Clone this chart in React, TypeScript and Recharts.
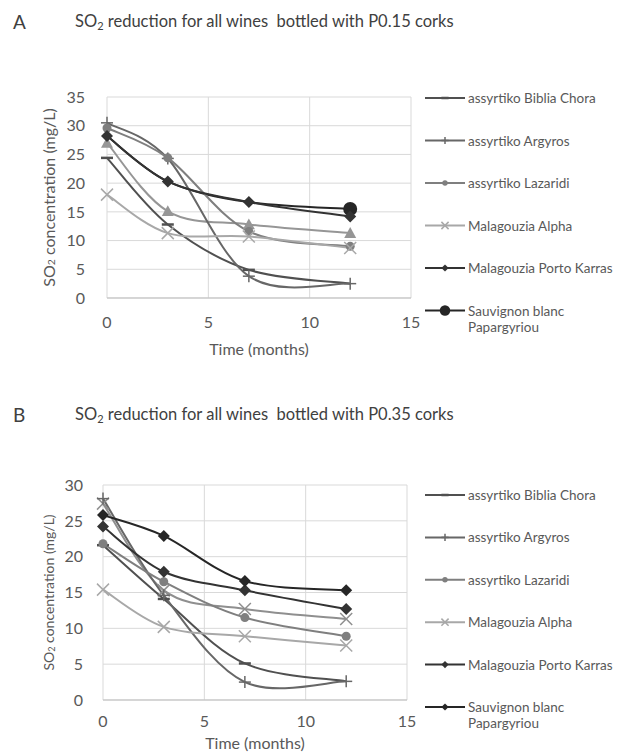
import React from "react";
import { LineChart, Line, XAxis, YAxis, CartesianGrid } from "recharts";

const months = [0, 3, 7, 12];
const xTicks = [0, 5, 10, 15];
const yTicksA = [0, 5, 10, 15, 20, 25, 30, 35];
const yTicksB = [0, 5, 10, 15, 20, 25, 30];

const wineNames = [
  "assyrtiko Biblia Chora",
  "assyrtiko Argyros",
  "assyrtiko Lazaridi",
  "Malagouzia Alpha",
  "Malagouzia Porto Karras",
  "Sauvignon blanc Papargyriou",
];

// P0.15 corks
const bibliaA = [24.4, 12.8, 4.9, 2.5];
const argyrosA = [30.5, 24.3, 3.8, 2.5];
const lazaridiA = [29.6, 24.4, 11.6, 9.0];
const alphaA = [18.0, 11.3, 10.7, 8.7];
const portoA = [28.2, 20.3, 16.7, 14.2];
const sauvignonA = [28.2, 20.3, 16.7, 15.5];
const extraA = [27.0, 15.1, 12.8, 11.3];

// P0.35 corks
const bibliaB = [21.6, 14.1, 5.1, 2.6];
const argyrosB = [28.1, 14.6, 2.5, 2.6];
const lazaridiB = [21.8, 16.5, 11.5, 8.9];
const alphaB = [15.4, 10.2, 8.9, 7.6];
const portoB = [24.2, 17.9, 15.3, 12.7];
const sauvignonB = [25.8, 22.9, 16.6, 15.3];
const extraB = [27.4, 15.3, 12.7, 11.3];

const FONT = "Lato, 'Open Sans', sans-serif";
const TXT = "#595959";

type Shape = "dash" | "plus" | "circle" | "bigCircle" | "x" | "diamond" | "triangle";
type Series = { key: string; name?: string; color: string; shape: Shape; values: number[] };

// drawing order (first = bottom)
const seriesA: Series[] = [
  { key: "extra", color: "#969696", shape: "triangle", values: extraA },
  { key: "sauvignon", name: wineNames[5], color: "#262626", shape: "bigCircle", values: sauvignonA },
  { key: "biblia", name: wineNames[0], color: "#505050", shape: "dash", values: bibliaA },
  { key: "argyros", name: wineNames[1], color: "#676767", shape: "plus", values: argyrosA },
  { key: "lazaridi", name: wineNames[2], color: "#7f7f7f", shape: "circle", values: lazaridiA },
  { key: "alpha", name: wineNames[3], color: "#a8a8a8", shape: "x", values: alphaA },
  { key: "porto", name: wineNames[4], color: "#333333", shape: "diamond", values: portoA },
];

const seriesB: Series[] = [
  { key: "extra", color: "#8f8f8f", shape: "x", values: extraB },
  { key: "biblia", name: wineNames[0], color: "#505050", shape: "dash", values: bibliaB },
  { key: "argyros", name: wineNames[1], color: "#676767", shape: "plus", values: argyrosB },
  { key: "lazaridi", name: wineNames[2], color: "#7f7f7f", shape: "circle", values: lazaridiB },
  { key: "alpha", name: wineNames[3], color: "#a8a8a8", shape: "x", values: alphaB },
  { key: "porto", name: wineNames[4], color: "#333333", shape: "diamond", values: portoB },
  { key: "sauvignon", name: wineNames[5], color: "#262626", shape: "diamond", values: sauvignonB },
];

// Excel-like smoothed line (Catmull-Rom through the points)
function excelSmooth(context: any) {
  let pts: number[][] = [];
  return {
    areaStart() {},
    areaEnd() {},
    lineStart() {
      pts = [];
    },
    lineEnd() {
      const n = pts.length;
      if (!n) return;
      context.moveTo(pts[0][0], pts[0][1]);
      for (let i = 0; i < n - 1; i++) {
        const p0 = pts[i - 1] || pts[i];
        const p1 = pts[i];
        const p2 = pts[i + 1];
        const p3 = pts[i + 2] || p2;
        context.bezierCurveTo(
          p1[0] + (p2[0] - p0[0]) / 6,
          p1[1] + (p2[1] - p0[1]) / 6,
          p2[0] - (p3[0] - p1[0]) / 6,
          p2[1] - (p3[1] - p1[1]) / 6,
          p2[0],
          p2[1]
        );
      }
    },
    point(x: number, y: number) {
      pts.push([+x, +y]);
    },
  };
}

function Marker({ cx, cy, shape, color, s = 1 }: { cx: number; cy: number; shape: Shape; color: string; s?: number }) {
  const d = 6 * s;
  switch (shape) {
    case "dash":
      return <line x1={cx - d} x2={cx + d} y1={cy} y2={cy} stroke={color} strokeWidth={2.5} />;
    case "plus":
      return (
        <g stroke={color} strokeWidth={1.5}>
          <line x1={cx - d} x2={cx + d} y1={cy} y2={cy} />
          <line x1={cx} x2={cx} y1={cy - d} y2={cy + d} />
        </g>
      );
    case "x":
      return (
        <g stroke={color} strokeWidth={1.5}>
          <line x1={cx - d} x2={cx + d} y1={cy - d} y2={cy + d} />
          <line x1={cx - d} x2={cx + d} y1={cy + d} y2={cy - d} />
        </g>
      );
    case "circle":
      return <circle cx={cx} cy={cy} r={4.5 * s} fill={color} />;
    case "bigCircle":
      return <circle cx={cx} cy={cy} r={7 * s} fill={color} />;
    case "diamond":
      return <polygon points={`${cx},${cy - d} ${cx + d},${cy} ${cx},${cy + d} ${cx - d},${cy}`} fill={color} />;
    case "triangle":
      return <polygon points={`${cx},${cy - d} ${cx + d},${cy + d * 0.8} ${cx - d},${cy + d * 0.8}`} fill={color} />;
  }
  return null;
}

type Layout = {
  top: number;
  height: number;
  plotTop: number;
  plotBottom: number;
  plotLeft: number;
  plotRight: number;
  yTicks: number[];
  letter: string;
  cork: string;
  titleY: number;
  xTickGap: number;
  yTickGap: number;
  xTitleGap: number;
  yTitleSize: number;
  legendY: number;
  legendStep: number;
};

const layoutA: Layout = {
  top: 0, height: 375, plotTop: 97, plotBottom: 298, plotLeft: 107, plotRight: 411,
  yTicks: yTicksA, letter: "A", cork: "P0.15", titleY: 22,
  xTickGap: 19, yTickGap: 22, xTitleGap: 57, yTitleSize: 16, legendY: 98, legendStep: 42.5,
};
const layoutB: Layout = {
  top: 375, height: 378, plotTop: 485, plotBottom: 700, plotLeft: 103, plotRight: 407,
  yTicks: yTicksB, letter: "B", cork: "P0.35", titleY: 415,
  xTickGap: 16, yTickGap: 20, xTitleGap: 49, yTitleSize: 14, legendY: 495, legendStep: 42.4,
};

function Panel({ L, series }: { L: Layout; series: Series[] }) {
  const rows = months.map((m, i) => {
    const r: Record<string, number> = { month: m };
    series.forEach((s) => (r[s.key] = s.values[i]));
    return r;
  });
  const yMax = L.yTicks[L.yTicks.length - 1];
  const legendOrder = wineNames.map((n) => series.find((s) => s.name === n)!);
  // a marker is hidden when a series drawn later sits on exactly the same point
  const covered = (si: number, i: number) =>
    series.slice(si + 1).some((o) => o.values[i] === series[si].values[i]);

  return (
    <div style={{ position: "absolute", left: 0, top: L.top, width: 631, height: L.height }}>
      <svg width={631} height={L.height} style={{ position: "absolute", left: 0, top: 0 }}>
        <text x={13} y={L.titleY - L.top + 7} fontFamily={FONT} fontSize={19} fill="#404040">
          {L.letter}
        </text>
        <text x={75} y={L.titleY - L.top + 5} fontFamily={FONT} fontSize={16.5} fill="#404040" style={{ whiteSpace: "pre" }}>
          <tspan>SO</tspan>
          <tspan dy={3} fontSize={11}>2</tspan>
          <tspan dy={-3}>{` reduction for all wines  bottled with ${L.cork} corks`}</tspan>
        </text>
      </svg>
      <div style={{ position: "absolute", left: 0, top: 0 }}>
        <LineChart
          width={631}
          height={L.height}
          data={rows}
          margin={{ top: L.plotTop - L.top, right: 631 - L.plotRight, bottom: 0, left: 0 }}
        >
          <CartesianGrid stroke="#d9d9d9" strokeWidth={1} />
          <XAxis
            type="number"
            dataKey="month"
            domain={[0, 15]}
            ticks={xTicks}
            interval={0}
            height={L.top + L.height - L.plotBottom}
            tickLine={false}
            tickSize={0}
            tickMargin={L.xTickGap}
            axisLine={{ stroke: "#bfbfbf" }}
            tick={{ fill: TXT, fontSize: 16, fontFamily: FONT }}
            label={{
              content: (p: any) => {
                const vb = p.viewBox;
                return (
                  <text x={vb.x + vb.width / 2} y={vb.y + L.xTitleGap} textAnchor="middle" fontFamily={FONT} fontSize={16} fill={TXT}>
                    Time (months)
                  </text>
                );
              },
            }}
          />
          <YAxis
            type="number"
            domain={[0, yMax]}
            ticks={L.yTicks}
            interval={0}
            width={L.plotLeft}
            tickLine={false}
            tickSize={0}
            tickMargin={L.yTickGap}
            axisLine={false}
            tick={{ fill: TXT, fontSize: 16, fontFamily: FONT }}
            label={{
              content: (p: any) => {
                const vb = p.viewBox;
                const cy = vb.y + vb.height / 2;
                return (
                  <text
                    transform={`translate(${48},${cy}) rotate(-90)`}
                    textAnchor="middle"
                    dominantBaseline="central"
                    fontFamily={FONT}
                    fontSize={L.yTitleSize}
                    fill={TXT}
                  >
                    <tspan>SO</tspan>
                    <tspan dy={3} fontSize={L.yTitleSize * 0.65}>2</tspan>
                    <tspan dy={-3}> concentration (mg/L)</tspan>
                  </text>
                );
              },
            }}
          />
          {series.map((s, si) => (
            <Line
              key={s.key}
              dataKey={s.key}
              name={s.name}
              type={excelSmooth as any}
              stroke={s.color}
              strokeWidth={2}
              isAnimationActive={false}
              activeDot={false}
              dot={(p: any) =>
                covered(si, p.index) ? (
                  <g key={`${s.key}-${p.index}`} />
                ) : (
                  <Marker key={`${s.key}-${p.index}`} cx={p.cx} cy={p.cy} shape={s.shape} color={s.color} />
                )
              }
            />
          ))}
        </LineChart>
      </div>
      <svg width={216} height={L.height} style={{ position: "absolute", left: 415, top: 0 }}>
        {legendOrder.map((s, i) => {
          const y = L.legendY - L.top + i * L.legendStep;
          const two = i === 5;
          return (
            <g key={s.key}>
              <line x1={10} x2={50} y1={y} y2={y} stroke={s.color} strokeWidth={2} />
              <Marker cx={30} cy={y} shape={s.shape} color={s.color} s={s.shape === "bigCircle" ? 0.75 : 0.6} />
              <text x={53} y={y} dominantBaseline="central" fontFamily={FONT} fontSize={13.5} fill={TXT}>
                {two ? "Sauvignon blanc" : s.name}
              </text>
              {two && (
                <text x={53} y={y + 16} dominantBaseline="central" fontFamily={FONT} fontSize={13.5} fill={TXT}>
                  Papargyriou
                </text>
              )}
            </g>
          );
        })}
      </svg>
    </div>
  );
}

export default function App() {
  return (
    <div style={{ position: "absolute", left: 0, top: 0, width: 631, height: 753, background: "#fff" }}>
      <Panel L={layoutA} series={seriesA} />
      <Panel L={layoutB} series={seriesB} />
    </div>
  );
}
